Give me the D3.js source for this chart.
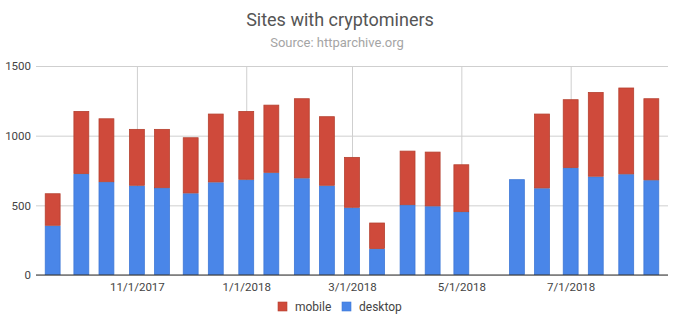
<!DOCTYPE html>
<html><head><meta charset="utf-8">
<script src="https://cdn.jsdelivr.net/npm/d3@7"></script>
<style>
html,body{margin:0;padding:0;background:#fff;}
text{font-family:Roboto,"Noto Sans",sans-serif;}
</style></head>
<body>
<svg id="chart" width="680" height="322"></svg>
<script>
const dates = ["2017-09-15","2017-10-01","2017-10-15","2017-11-01","2017-11-15","2017-12-01","2017-12-15",
  "2018-01-01","2018-01-15","2018-02-01","2018-02-15","2018-03-01","2018-03-15","2018-04-01","2018-04-15",
  "2018-05-01","2018-06-01","2018-06-15","2018-07-01","2018-07-15","2018-08-01","2018-08-15"];
const desktop = [354,725,667,641,624,586,665,684,734,694,641,483,187,502,493,452,687,622,768,706,723,680];
const mobile  = [232,452,457,407,424,402,493,493,488,574,498,364,189,390,392,342,0,536,493,607,622,588];
const xTickDates = ["2017-11-01","2018-01-01","2018-03-01","2018-05-01","2018-07-01"];
const yTicks = [0,500,1000,1500];
const seriesNames = ["mobile","desktop"];
const colors = {mobile:"#cf4a3b", desktop:"#4a86e8"};
const strokes = {mobile:"#b5402f", desktop:"#3f78d6"};

const parse = d3.utcParse("%Y-%m-%d");
const fmt = d3.utcFormat("%-m/%-d/%Y");
const data = dates.map((d,i)=>({date:parse(d), desktop:desktop[i], mobile:mobile[i]}));

const svg = d3.select("#chart");
const mLeft=36, mRight=668, mTop=66, mBottom=275;
const DAY = 864e5;
const pad = 9.3*DAY;
const x = d3.scaleUtc()
  .domain([new Date(data[0].date.getTime()-pad), new Date(data[data.length-1].date.getTime()+pad)])
  .range([mLeft,mRight]);
const y = d3.scaleLinear().domain([0,1500]).range([mBottom,mTop]);
const bw = 0.625*(x(new Date(data[0].date.getTime()+14*DAY)) - x(data[0].date));

// title
svg.append("text").attr("x",340).attr("y",26).attr("text-anchor","middle")
  .attr("font-size",18).attr("fill","#555").text("Sites with cryptominers");
svg.append("text").attr("x",337).attr("y",47).attr("text-anchor","middle")
  .attr("font-size",13).attr("fill","#a5a5a5").text("Source: httparchive.org");

// grid
const yAxis = d3.axisLeft(y).tickValues(yTicks).tickSize(-(mRight-mLeft)).tickFormat(d3.format("d"));
const gy = svg.append("g").attr("transform",`translate(${mLeft},0)`).call(yAxis);
gy.select(".domain").remove();
gy.selectAll(".tick line").attr("stroke","#cfcfcf").attr("x1",0);
gy.selectAll(".tick text").attr("x",-5).attr("font-size",11.5).attr("fill","#444").attr("font-family","Roboto");

const xAxis = d3.axisBottom(x).tickValues(xTickDates.map(parse)).tickFormat(fmt).tickSize(-(mBottom-mTop)).tickPadding(5);
const gx = svg.append("g").attr("transform",`translate(0,${mBottom})`).call(xAxis);
gx.select(".domain").remove();
gx.selectAll(".tick line").attr("stroke","#cfcfcf");
gx.selectAll(".tick text").attr("font-size",11.5).attr("fill","#444").attr("font-family","Roboto").attr("dy","0.95em");

// bars
const stack = d3.stack().keys(["desktop","mobile"])(data);
svg.append("g").selectAll("g").data(stack).join("g")
  .attr("fill",d=>colors[d.key]).attr("stroke",d=>strokes[d.key]).attr("stroke-width",0.8)
  .selectAll("rect").data(d=>d.filter(v=>v[1]>v[0])).join("rect")
  .attr("x",d=>x(d.data.date)-bw/2+0.4)
  .attr("width",bw-0.8)
  .attr("y",d=>y(d[1])+0.4)
  .attr("height",d=>Math.max(0,y(d[0])-y(d[1])-0.8));

// baseline
svg.append("line").attr("x1",mLeft).attr("x2",mRight).attr("y1",mBottom).attr("y2",mBottom)
  .attr("stroke","#333").attr("stroke-width",1.2);

// legend
const legend = svg.append("g");
const legItems = [{k:"mobile",x:278},{k:"desktop",x:342}];
legItems.forEach(it=>{
  legend.append("rect").attr("x",it.x).attr("y",302).attr("width",9).attr("height",9)
    .attr("fill",colors[it.k]).attr("stroke",strokes[it.k]).attr("stroke-width",0.6);
  legend.append("text").attr("x",it.x+17).attr("y",311).attr("font-size",12).attr("fill","#444").text(it.k);
});
</script>
</body></html>
